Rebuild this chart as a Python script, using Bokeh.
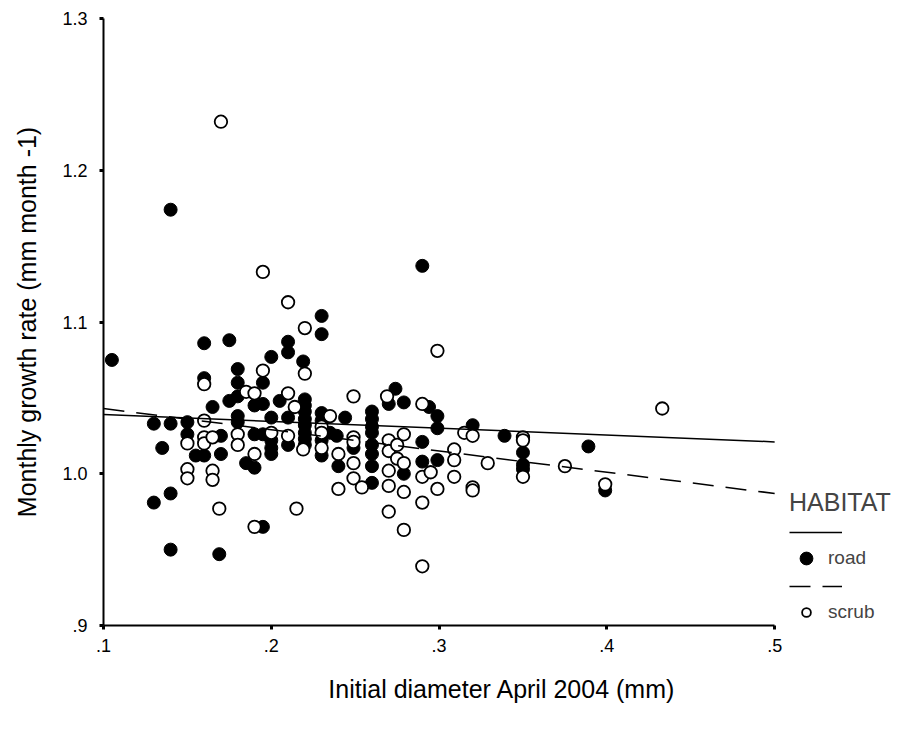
from bokeh.plotting import figure
from bokeh.models import Range1d, FixedTicker, Legend, LegendItem, ColumnDataSource
from bokeh.embed import file_html
from bokeh.resources import INLINE

# ---- data ----
road_x = [0.105, 0.130, 0.130, 0.135, 0.140, 0.140, 0.140, 0.140, 0.150, 0.150,
          0.155, 0.160, 0.160, 0.160, 0.165, 0.170, 0.170, 0.169, 0.175, 0.175,
          0.180, 0.180, 0.180, 0.180, 0.180, 0.185, 0.190, 0.190, 0.190, 0.195,
          0.195, 0.195, 0.195, 0.200, 0.200, 0.200, 0.200, 0.200, 0.205, 0.210,
          0.210, 0.210, 0.210, 0.219, 0.220, 0.220, 0.220, 0.220, 0.220, 0.220,
          0.220, 0.220, 0.230, 0.230, 0.230, 0.230, 0.230, 0.230, 0.235, 0.239,
          0.240, 0.244, 0.249, 0.260, 0.260, 0.260, 0.260, 0.260, 0.260, 0.260,
          0.260, 0.270, 0.274, 0.279, 0.279, 0.290, 0.290, 0.290, 0.294, 0.299,
          0.299, 0.299, 0.320, 0.339, 0.350, 0.350, 0.350, 0.389, 0.399]
road_y = [1.075, 1.033, 0.981, 1.017, 1.174, 1.033, 0.987, 0.950, 1.034, 1.026,
          1.012, 1.012, 1.086, 1.063, 1.044, 1.025, 1.013, 0.947, 1.088, 1.048,
          1.069, 1.060, 1.051, 1.038, 1.034, 1.007, 1.045, 1.026, 1.004, 1.046,
          1.060, 1.026, 0.965, 1.077, 1.037, 1.022, 1.017, 1.013, 1.048, 1.087,
          1.080, 1.037, 1.019, 1.074, 1.049, 1.045, 1.041, 1.036, 1.032, 1.027,
          1.023, 1.019, 1.104, 1.092, 1.040, 1.035, 1.022, 1.012, 1.027, 1.025,
          1.005, 1.037, 1.017, 1.041, 1.036, 1.031, 1.027, 1.019, 1.013, 1.005,
          0.994, 1.046, 1.056, 1.047, 1.000, 1.137, 1.021, 1.008, 1.044, 1.038,
          1.030, 1.009, 1.032, 1.025, 1.014, 1.006, 1.003, 1.018, 0.989]

scrub_x = [0.160, 0.160, 0.160, 0.160, 0.165, 0.150, 0.150, 0.150, 0.165, 0.165,
           0.169, 0.170, 0.180, 0.180, 0.185, 0.190, 0.190, 0.190, 0.195, 0.195,
           0.200, 0.210, 0.210, 0.210, 0.214, 0.215, 0.220, 0.220, 0.219, 0.230,
           0.230, 0.230, 0.235, 0.240, 0.240, 0.249, 0.249, 0.249, 0.249, 0.249,
           0.254, 0.269, 0.270, 0.270, 0.270, 0.270, 0.270, 0.275, 0.275, 0.279,
           0.279, 0.279, 0.279, 0.290, 0.290, 0.290, 0.290, 0.295, 0.299, 0.299,
           0.309, 0.309, 0.309, 0.315, 0.320, 0.320, 0.320, 0.329, 0.350, 0.350,
           0.350, 0.375, 0.399, 0.433]
scrub_y = [1.059, 1.035, 1.024, 1.020, 1.024, 1.020, 1.003, 0.997, 1.002, 0.996,
           0.977, 1.232, 1.026, 1.019, 1.054, 1.053, 1.013, 0.965, 1.068, 1.133,
           1.027, 1.113, 1.053, 1.025, 1.044, 0.977, 1.096, 1.066, 1.016, 1.031,
           1.027, 1.017, 1.038, 1.013, 0.990, 1.051, 1.024, 1.021, 1.007, 0.997,
           0.991, 1.051, 1.022, 1.015, 1.002, 0.992, 0.975, 1.019, 1.010, 1.026,
           1.007, 0.988, 0.963, 1.046, 0.998, 0.981, 0.939, 1.001, 1.081, 0.990,
           1.016, 1.009, 0.998, 1.027, 1.025, 0.991, 0.989, 1.007, 1.024, 1.022,
           0.998, 1.005, 0.993, 1.043]

fit_x = [0.1, 0.5]
road_fit = [1.039, 1.021]
scrub_fit = [1.043, 0.987]

x_ticks = [0.1, 0.2, 0.3, 0.4, 0.5]
x_tick_labels = [".1", ".2", ".3", ".4", ".5"]
y_ticks = [0.9, 1.0, 1.1, 1.2, 1.3]
y_tick_labels = [".9", "1.0", "1.1", "1.2", "1.3"]

FONT = "Liberation Sans"

p = figure(width=900, height=734, output_backend="svg", toolbar_location=None,
           x_range=Range1d(0.1, 0.575), y_range=Range1d(0.9, 1.3),
           min_border_left=103, min_border_right=0, min_border_top=18,
           min_border_bottom=109)
p.outline_line_color = None
p.xgrid.visible = False
p.ygrid.visible = False
p.background_fill_color = "white"
p.border_fill_color = "white"

for ax in (p.xaxis[0], p.yaxis[0]):
    ax.axis_line_width = 2
    ax.axis_line_color = "black"
    ax.major_tick_line_width = 3
    ax.major_tick_line_color = "black"
    ax.major_tick_out = 4
    ax.major_tick_in = 0
    ax.minor_tick_line_color = None
    ax.major_label_text_font = FONT
    ax.major_label_text_font_size = "18px"
    ax.major_label_text_color = "black"
    ax.axis_label_text_font = FONT
    ax.axis_label_text_font_size = "25px"
    ax.axis_label_text_font_style = "normal"
    ax.axis_label_text_color = "black"

p.xaxis[0].bounds = (0.1, 0.5)
p.xaxis[0].ticker = FixedTicker(ticks=x_ticks)
p.xaxis[0].major_label_overrides = dict(zip(x_ticks, x_tick_labels))
p.xaxis[0].axis_label = "Initial diameter April 2004 (mm)"
p.xaxis[0].major_label_standoff = 9
p.xaxis[0].axis_label_standoff = 20

p.yaxis[0].ticker = FixedTicker(ticks=y_ticks)
p.yaxis[0].major_label_overrides = dict(zip(y_ticks, y_tick_labels))
p.yaxis[0].axis_label = "Monthly growth rate (mm month -1)"
p.yaxis[0].major_label_standoff = 12
p.yaxis[0].axis_label_standoff = 18

road_src = ColumnDataSource(dict(x=road_x, y=road_y))
scrub_src = ColumnDataSource(dict(x=scrub_x, y=scrub_y))

r_road = p.scatter("x", "y", source=road_src, size=13, marker="circle",
                   fill_color="black", line_color="black", line_width=1)
r_scrub = p.scatter("x", "y", source=scrub_src, size=12.5, marker="circle",
                    fill_color="white", line_color="black", line_width=1.8)
l_road = p.line(fit_x, road_fit, line_color="black", line_width=1.5)
l_scrub = p.line(fit_x, scrub_fit, line_color="black", line_width=1.5,
                 line_dash="21 12")


def make_legend(items, loc, gw, gh, fs, title=None):
    lg = Legend(items=items, location=loc)
    if title:
        lg.title = title
        lg.title_text_font = FONT
        lg.title_text_font_size = "25px"
        lg.title_text_font_style = "normal"
        lg.title_standoff = 9
    lg.label_text_font = FONT
    lg.label_text_font_size = fs
    lg.glyph_width = gw
    lg.glyph_height = gh
    lg.label_height = gh
    lg.label_width = 10
    lg.label_standoff = 5
    lg.spacing = 0
    lg.padding = 0
    lg.margin = 0
    lg.border_line_color = None
    lg.background_fill_alpha = 0
    lg.inactive_fill_alpha = 0
    p.add_layout(lg)
    return lg


make_legend([LegendItem(label=" ", renderers=[l_road])], (686, 87), 53, 12, "8px",
            title="HABITAT")
make_legend([LegendItem(label="road", renderers=[r_road])], (686, 51), 34, 32, "19px")
make_legend([LegendItem(label=" ", renderers=[l_scrub])], (686, 33), 53, 12, "8px")
make_legend([LegendItem(label="scrub", renderers=[r_scrub])], (686, 2), 34, 22, "19px")

open("out.html", "w").write(file_html(p, INLINE))
